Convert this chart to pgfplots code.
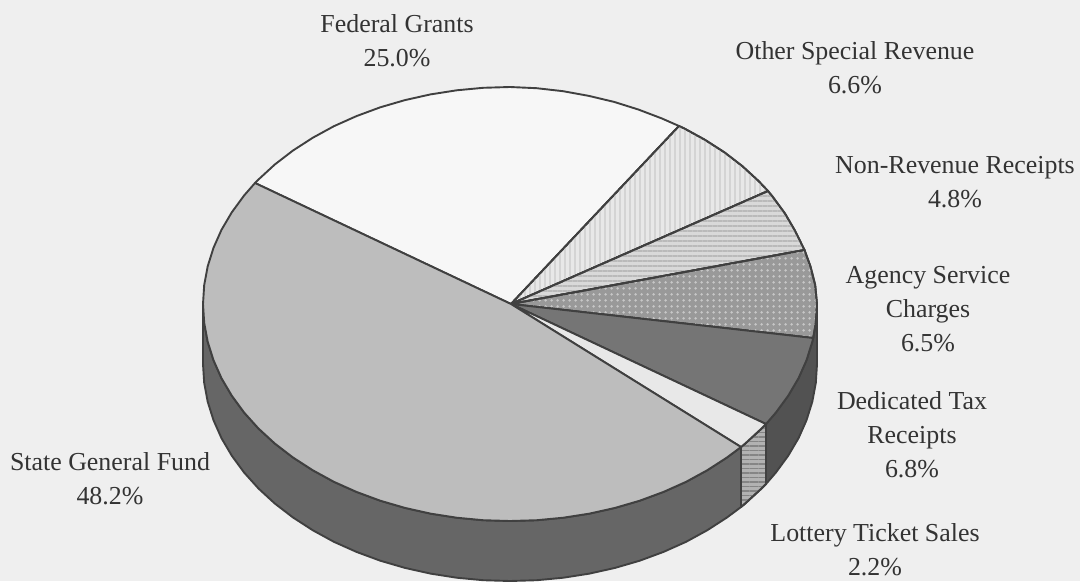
\documentclass[border=0pt]{standalone}
\usepackage{fontspec}
\setmainfont{Liberation Serif}
\usepackage{pgfplots}
\pgfplotsset{compat=1.18}
\usetikzlibrary{patterns.meta}
\definecolor{bgc}{HTML}{EFEFEF}
\definecolor{ink}{HTML}{404040}
\definecolor{txt}{HTML}{333333}
\tikzset{lab/.style={font=\fontsize{26}{34}\selectfont, text=txt, align=center, inner sep=0pt, anchor=center}}
\begin{document}
\begin{tikzpicture}
\begin{axis}[
  scale only axis, width=1080bp, height=581bp,
  xmin=0, xmax=1080, ymin=0, ymax=581, y dir=reverse,
  axis lines=none, no marks, clip=true,
  every axis plot/.append style={line join=round, line width=1.9bp, draw=ink},
]
% background
\addplot[fill=bgc, draw=none] coordinates {(0,0) (1080,0) (1080,581) (0,581)} --cycle;

% side: Dedicated Tax Receipts
\addplot[fill=black!68] coordinates {(766,424) (775.9,412.5) (788.2,395.7) (798.5,378.2) (806.5,360.2) (812.3,341.7) (815.8,322.9) (817,304) (817,364) (815.8,382.9) (812.3,401.7) (806.5,420.2) (798.5,438.2) (788.2,455.7) (775.9,472.5) (766,484)} --cycle;
% side: Lottery Ticket Sales
\addplot[preaction={fill=black!30}, pattern={Lines[angle=0,distance=4.5bp,line width=1.6bp]}, pattern color=black!48] coordinates {(741,447) (745.2,443.5) (761.5,428.5) (766,424) (766,484) (761.5,488.5) (745.2,503.5) (741,507)} --cycle;
% side: State General Fund
\addplot[fill=black!60] coordinates {(741,447) (727.1,457.4) (707.3,470.2) (686.1,481.8) (663.5,491.9) (639.7,500.7) (615,507.9) (589.5,513.6) (563.3,517.7) (536.8,520.2) (510,521) (483.2,520.2) (456.7,517.7) (430.5,513.6) (405,507.9) (380.3,500.7) (356.5,491.9) (333.9,481.8) (312.7,470.2) (292.9,457.4) (274.8,443.5) (258.5,428.5) (244.1,412.5) (231.8,395.7) (221.5,378.2) (213.5,360.2) (207.7,341.7) (204.2,322.9) (203,304) (203,364) (204.2,382.9) (207.7,401.7) (213.5,420.2) (221.5,438.2) (231.8,455.7) (244.1,472.5) (258.5,488.5) (274.8,503.5) (292.9,517.4) (312.7,530.2) (333.9,541.8) (356.5,551.9) (380.3,560.7) (405,567.9) (430.5,573.6) (456.7,577.7) (483.2,580.2) (510,581) (536.8,580.2) (563.3,577.7) (589.5,573.6) (615,567.9) (639.7,560.7) (663.5,551.9) (686.1,541.8) (707.3,530.2) (727.1,517.4) (741,507)} --cycle;

% top: Federal Grants
\addplot[fill=white!97!black] coordinates {(511,304) (255,183) (258.5,179.5) (274.8,164.5) (292.9,150.6) (312.7,137.8) (333.9,126.2) (356.5,116.1) (380.3,107.3) (405,100.1) (430.5,94.4) (456.7,90.3) (483.2,87.8) (510,87) (536.7,88.2) (563.1,91.2) (588.9,95.9) (614.1,101.9) (638.3,109.5) (661.7,118.4) (679,126)} --cycle;
% top: Other Special Revenue
\addplot[preaction={fill=black!9}, pattern={Lines[angle=90,distance=5bp,line width=2bp]}, pattern color=black!17] coordinates {(511,304) (679,126) (684,128.3) (704.9,139.8) (724.5,152.4) (742.4,166.2) (758.5,181) (768,191)} --cycle;
% top: Non-Revenue Receipts
\addplot[preaction={fill=black!15}, pattern={Lines[angle=0,distance=5bp,line width=2bp]}, pattern color=black!27] coordinates {(511,304) (768,191) (772.7,196.8) (784.9,213.4) (795,230.7) (804.5,250)} --cycle;
% top: Agency Service Charges
\addplot[preaction={fill=black!40}, pattern={Dots[distance=6bp,radius=1.6bp]}, pattern color=black!22] coordinates {(511,304) (804.5,250) (810.5,266.5) (815.2,285.1) (817,304) (815.8,322.9) (813.2,338)} --cycle;
% top: Dedicated Tax Receipts
\addplot[fill=black!54] coordinates {(511,304) (813.2,338) (812.3,341.7) (806.5,360.2) (798.5,378.2) (788.2,395.7) (775.9,412.5) (766,424)} --cycle;
% top: Lottery Ticket Sales
\addplot[fill=black!9] coordinates {(511,304) (766,424) (761.5,428.5) (745.2,443.5) (741,447)} --cycle;
% top: State General Fund
\addplot[fill=black!26] coordinates {(511,304) (741,447) (727.1,457.4) (707.3,470.2) (686.1,481.8) (663.5,491.9) (639.7,500.7) (615,507.9) (589.5,513.6) (563.3,517.7) (536.8,520.2) (510,521) (483.2,520.2) (456.7,517.7) (430.5,513.6) (405,507.9) (380.3,500.7) (356.5,491.9) (333.9,481.8) (312.7,470.2) (292.9,457.4) (274.8,443.5) (258.5,428.5) (244.1,412.5) (231.8,395.7) (221.5,378.2) (213.5,360.2) (207.7,341.7) (204.2,322.9) (203,304) (204.2,285.1) (207.7,266.3) (213.5,247.8) (221.5,229.8) (231.8,212.3) (244.1,195.5) (255,183)} --cycle;

\node[lab] at (axis cs:397,41) {Federal Grants\\25.0\%};
\node[lab] at (axis cs:855,68) {Other Special Revenue\\6.6\%};
\node[lab] at (axis cs:955,182) {Non-Revenue Receipts\\4.8\%};
\node[lab] at (axis cs:928,309) {Agency Service\\Charges\\6.5\%};
\node[lab] at (axis cs:912,434.5) {Dedicated Tax\\Receipts\\6.8\%};
\node[lab] at (axis cs:875,550) {Lottery Ticket Sales\\2.2\%};
\node[lab] at (axis cs:110,478.5) {State General Fund\\48.2\%};
\end{axis}
\end{tikzpicture}
\end{document}
